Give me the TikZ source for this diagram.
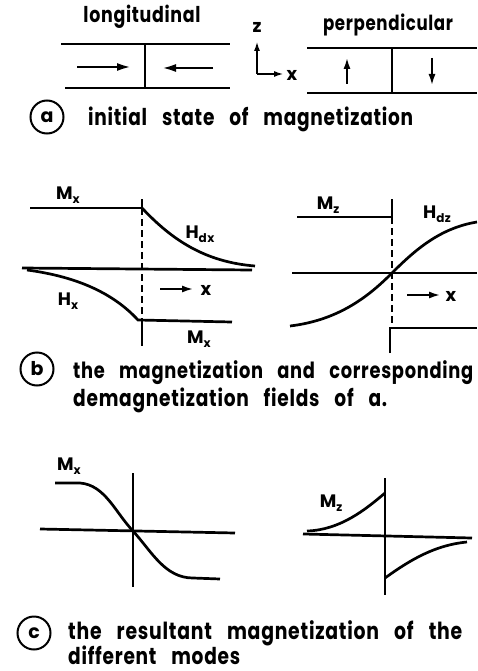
\documentclass[tikz,border=0pt]{standalone}
\usepackage{fontspec}
\setmainfont{Poppins}[LetterSpace=4]
\usepackage{graphicx}
\usetikzlibrary{arrows.meta}
\newcommand\fitw[2]{\resizebox{#1pt}{!}{\scalebox{1}[1.25]{\bfseries #2}}}
\newcommand\wsp{\hspace{0.8em}}
\newcommand\sub[1]{\raisebox{-4.5pt}{\fontsize{12}{12}\selectfont\bfseries #1}}
\begin{document}
\begin{tikzpicture}[x=1pt,y=-1pt,
 thk/.style={line width=2.7pt},
 med/.style={line width=1.5pt},
 lbl/.style={inner sep=0pt, font=\bfseries\fontsize{18}{18}\selectfont},
 txt/.style={inner sep=0pt, anchor=west},
 arr/.style={line width=2.4pt,-{Latex[length=14pt,width=8pt]}},
 sarr/.style={line width=2.4pt,-{Latex[length=12pt,width=7pt]}},
 circ/.style={draw,circle,line width=2pt,minimum size=33pt,inner sep=0pt,font=\bfseries\fontsize{19}{19}\selectfont},
 dsh/.style={line width=1.3pt,dash pattern=on 7pt off 4pt},
]
\useasboundingbox (0,0) rectangle (477,671);

% ---------- (a) ----------
\node[inner sep=0pt] (tlong) at (142,17) {\fitw{117}{longitudinal}};
\draw[thk] (61,44) -- (230,44);
\draw[thk] (65,88) -- (230,88);
\draw[med] (145,45) -- (145,88);
\draw[arr] (77,67) -- (131,67);
\draw[arr] (213,68) -- (162,68);

\node[lbl] (zl) at (257,27) {z};
\coordinate (org) at (257,74);
\coordinate (zt) at (257,41);
\coordinate (xt) at (284,74);
\draw[line width=2pt,-{Latex[length=10pt,width=6pt]}] (org) -- (zt);
\draw[line width=2pt,-{Latex[length=10pt,width=6pt]}] (org) -- (xt);
\node[lbl] (xl) at (292,75) {x};

\node[inner sep=0pt] (tperp) at (388,25) {\fitw{130}{perpendicular}};
\draw[thk] (307,48) -- (477,48);
\draw[thk] (307,93) -- (477,93);
\draw[med] (392,49) -- (392,93);
\draw[sarr] (347,84) -- (347,57);
\draw[sarr] (432,58) -- (432,86);

\node[circ] (ca) at (47,117) {a};
\node[txt] (capa) at (88,119) {\fitw{325}{initial\wsp state\wsp of\wsp magnetization}};

% ---------- (b) left ----------
\node[lbl] (mx1) at (68,195) {M\sub{x}};
\draw[thk] (30,208) -- (142,208);
\draw[med] (142,199) -- (142,208);
\draw[dsh] (142,208) -- (142,320);
\draw[med] (142,320) -- (142,346);
\draw[thk] (142,208) .. controls (172,240) and (205,262) .. (255,266);
\draw[thk] (22,268) -- (252,270);
\draw[thk] (27,270) .. controls (80,277) and (115,295) .. (138,320) -- (232,322);
\node[lbl] (hx) at (68,301) {H\sub{x}};
\node[lbl] (hdx) at (200,234) {H\sub{dx}};
\node[lbl] (mx2) at (199,339) {M\sub{x}};
\draw[sarr] (160,289) -- (194,289);
\node[lbl] (xb1) at (206,290) {x};

% ---------- (b) right ----------
\node[lbl] (mz1) at (328,205) {M\sub{z}};
\draw[thk] (297,217) -- (392,217);
\draw[med] (392,199) -- (392,217);
\draw[dsh] (392,217) -- (392,327);
\draw[thk] (292,273) -- (477,273);
\draw[thk] (290,326) .. controls (340,320) and (370,295) .. (392,273) .. controls (415,250) and (440,228) .. (477,222);
\node[lbl] (hdz) at (437,214) {H\sub{dz}};
\draw[sarr] (407,295) -- (441,295);
\node[lbl] (xb2) at (451,296) {x};
\draw[thk] (390,353) -- (390,328) -- (477,328);

\node[circ] (cb) at (37,369) {b};
\node[txt] (capb1) at (73,373) {\fitw{400}{the\wsp magnetization\wsp and\wsp corresponding}};
\node[txt] (capb2) at (73,400) {\fitw{314}{demagnetization\wsp fields\wsp of\wsp a.}};

% ---------- (c) left ----------
\node[lbl] (mx3) at (69,466) {M\sub{x}};
\draw[med] (133,473) -- (133,587);
\draw[thk] (40,529) -- (235,533);
\draw[thk] (55,483) -- (80,483) .. controls (105,485) and (115,512) .. (133,531) .. controls (152,552) and (165,578) .. (193,578) -- (220,579);

% ---------- (c) right ----------
\node[lbl] (mz2) at (331,503) {M\sub{z}};
\draw[med] (385,478) -- (385,595);
\draw[thk] (303,534) -- (472,538);
\draw[thk] (307,531) .. controls (340,530) and (365,510) .. (385,493);
\draw[thk] (385,578) .. controls (410,560) and (435,545) .. (467,542);

\node[circ] (cc) at (34,633) {c};
\node[txt] (capc1) at (68,633) {\fitw{394}{the\wsp resultant\wsp magnetization\wsp of\wsp the}};
\node[txt] (capc2) at (68,655) {\fitw{172}{different\wsp modes}};
\end{tikzpicture}
\end{document}
